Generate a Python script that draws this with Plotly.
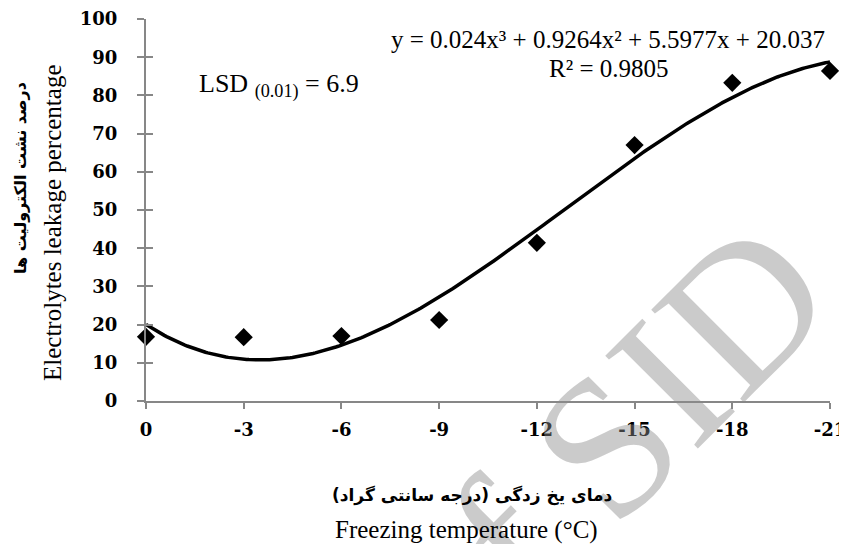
import numpy as np
import plotly.graph_objects as go

# ---- data ----
temps = [0, -3, -6, -9, -12, -15, -18, -21]
leakage = [16.8, 16.7, 17.0, 21.2, 41.4, 67.0, 83.3, 86.4]
tick_vals_x = [0, -3, -6, -9, -12, -15, -18, -21]
tick_text_x = ["0", "-3", "-6", "-9", "-12", "-15", "-18", "-21"]
tick_vals_y = [0, 10, 20, 30, 40, 50, 60, 70, 80, 90, 100]
tick_text_y = ["0", "10", "20", "30", "40", "50", "60", "70", "80", "90", "100"]
# trendline coefficients as shown on the chart (cubic, highest power first)
trend_coefs = [0.024, 0.9264, 5.5977, 20.037]

xs = np.linspace(0, -21, 300)
ys = np.polyval(trend_coefs, xs)

SERIF = "Liberation Serif, Times New Roman, serif"
TICKFONT = "DejaVu Serif, serif"
AXIS_GREY = "#878787"

# the page body adds an 8px offset; size the figure so it fills the 847x544 window
OFF = 8
W, H = 847 - OFF, 544 - OFF
L, R, T, B = 146 - OFF, 17, 19 - OFF, 143

fig = go.Figure()
fig.add_trace(go.Scatter(x=xs, y=ys, mode="lines",
                         line=dict(color="black", width=3.5),
                         hoverinfo="skip", showlegend=False, cliponaxis=False))
fig.add_trace(go.Scatter(x=temps, y=leakage, mode="markers",
                         marker=dict(symbol="diamond", size=14, color="black"),
                         showlegend=False, cliponaxis=False))
# invisible trace to enable the overlay axis for inside ticks
fig.add_trace(go.Scatter(x=[0], y=[0], yaxis="y2", mode="markers",
                         marker=dict(opacity=0), hoverinfo="skip", showlegend=False))

fig.update_layout(
    width=W, height=H,
    margin=dict(l=L, r=R, t=T, b=B, autoexpand=False),
    paper_bgcolor="white", plot_bgcolor="white",
    font=dict(family=SERIF, color="black"),
    xaxis=dict(range=[0, -21], tickmode="array", tickvals=tick_vals_x,
               ticktext=["<b>" + t + "</b>" for t in tick_text_x], automargin=False,
               showgrid=False, zeroline=False, showline=True, linecolor=AXIS_GREY, linewidth=2,
               ticks="outside", ticklen=6, tickwidth=1.5, tickcolor=AXIS_GREY,
               tickfont=dict(family=TICKFONT, size=18, color="black", weight="bold"),
               ticklabelstandoff=5),
    yaxis=dict(range=[0, 100], tickmode="array", tickvals=tick_vals_y,
               ticktext=["<b>" + t + "</b>" for t in tick_text_y], automargin=False,
               showgrid=False, zeroline=False, showline=True, linecolor=AXIS_GREY, linewidth=2,
               ticks="outside", ticklen=7, tickwidth=1.5, tickcolor=AXIS_GREY,
               tickfont=dict(family=TICKFONT, size=18, color="black", weight="bold"),
               ticklabelstandoff=16),
    yaxis2=dict(range=[0, 100], overlaying="y", side="left", tickmode="array", tickvals=tick_vals_y,
                showgrid=False, zeroline=False, showline=False, showticklabels=False, automargin=False,
                ticks="inside", ticklen=7, tickwidth=1.5, tickcolor=AXIS_GREY),
)

# annotation positions in window pixels
ann = []
# watermark
ann.append(dict(text="of SID", x=603, y=447, showarrow=False,
                textangle=-45, font=dict(family=SERIF, size=200, color="rgba(140,140,140,0.45)")))
# equation
ann.append(dict(text="y = 0.024x³ + 0.9264x² + 5.5977x + 20.037",
                x=608, y=39, showarrow=False,
                font=dict(family=SERIF, size=25, color="black")))
ann.append(dict(text="R² = 0.9805", x=609, y=68, showarrow=False,
                font=dict(family=SERIF, size=25, color="black")))
ann.append(dict(text="LSD <sub>(0.01)</sub> = 6.9", x=279, y=85, showarrow=False,
                font=dict(family=SERIF, size=26, color="black")))
# x-axis titles
ann.append(dict(text="دمای یخ زدگی (درجه سانتی گراد)", x=472, y=495, showarrow=False,
                font=dict(family="DejaVu Sans", size=17, color="black", weight="bold")))
ann.append(dict(text="Freezing temperature (°C)", x=466, y=530, showarrow=False,
                font=dict(family=SERIF, size=25, color="black")))
# y-axis titles
ann.append(dict(text="درصد نشت الکترولیت ها", x=20, y=178, showarrow=False, textangle=-90,
                font=dict(family="DejaVu Sans", size=16, color="black", weight="bold")))
ann.append(dict(text="Electrolytes leakage percentage", x=52, y=223, showarrow=False, textangle=-90,
                font=dict(family=SERIF, size=25, color="black")))

pw, ph = W - L - R, H - T - B
for a in ann:
    a["xref"] = "paper"; a["yref"] = "paper"
    a["xanchor"] = "center"; a["yanchor"] = "middle"
    fx, fy = a["x"] - OFF, a["y"] - OFF
    a["x"] = (fx - L) / pw
    a["y"] = (H - B - fy) / ph
fig.update_layout(annotations=ann)

fig.write_html("out.html")
